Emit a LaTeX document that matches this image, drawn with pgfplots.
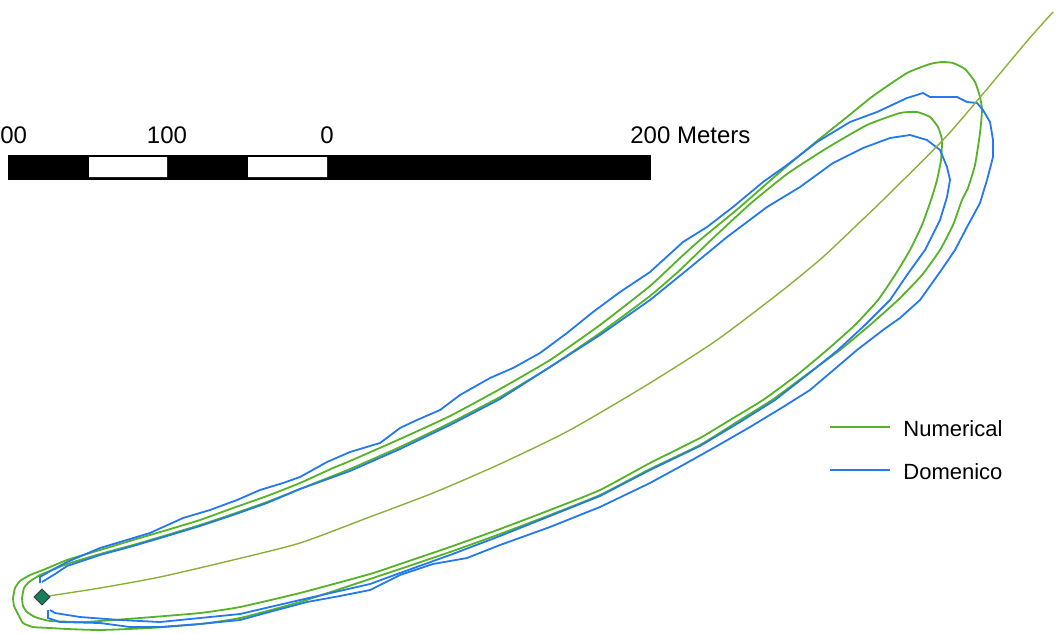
\documentclass[border=0pt]{standalone}
\usepackage{fontspec}
\setmainfont{Liberation Sans}
\usepackage{pgfplots}
\pgfplotsset{compat=1.18}

\definecolor{numgreen}{RGB}{86,178,38}
\definecolor{domblue}{RGB}{36,120,240}
\definecolor{midolive}{RGB}{138,176,58}
\definecolor{srcgreen}{RGB}{22,128,92}

\begin{document}
\begin{tikzpicture}
\begin{axis}[
    width=530.5pt, height=316.5pt, scale only axis,
    xmin=0, xmax=1061, ymin=0, ymax=633, y dir=reverse,
    hide axis, clip=false,
]
% invisible frame, keeps the page at the picture size
\addplot[draw=none, forget plot] coordinates {(0,0) (1061,633)};

% ---- scale bar
\addplot[fill=black, draw=black, line width=0.5pt] coordinates {(8,155) (650,155) (650,179) (8,179) (8,155)};
\addplot[fill=white, draw=none] coordinates {(89,157) (167,157) (167,177) (89,177) (89,157)};
\addplot[fill=white, draw=none] coordinates {(248,157) (327,157) (327,177) (248,177) (248,157)};
\node[anchor=base west, inner sep=0pt, font=\fontsize{12}{14}\selectfont] at (axis cs:0,143) {00};
\node[anchor=base, inner sep=0pt, font=\fontsize{12}{14}\selectfont] at (axis cs:167,143) {100};
\node[anchor=base, inner sep=0pt, font=\fontsize{12}{14}\selectfont] at (axis cs:327,143) {0};
\node[anchor=base west, inner sep=0pt, font=\fontsize{12}{14}\selectfont] at (axis cs:630,143) {200 Meters};

% ---- Numerical, outer contour
\addplot[numgreen, line width=0.9pt, smooth, tension=0.3] coordinates {
(13,598) (15,588) (20,581) (30,575) (43,570) (67,560) (100,550) (133,540) (167,530)
(200,520) (233,508) (267,496) (300,483) (333,468) (350,461) (400,439) (450,416)
(500,389) (550,360) (600,325) (650,286) (680,258) (700,240) (740,207) (780,172)
(817,141) (847,117) (873,96) (907,73) (930,64) (942,62) (953,63) (965,69) (975,82)
(980,97) (982,110) (980,133) (975,165) (968,188) (962,200) (953,225) (940,250)
(922,275) (898,300) (870,325) (840,350) (806,375) (772,400) (740,420) (700,445)
(650,469) (600,495) (550,515) (500,534) (450,552) (400,569) (370,579) (300,602)
(240,618) (200,624) (150,628) (100,630) (67,629) (50,628) (33,627) (23,623)
(18,614) (14,606) (13,598)};

% ---- Numerical, inner contour
\addplot[numgreen, line width=0.9pt, smooth, tension=0.3] coordinates {
(22,598) (24,588) (29,582) (40,575) (50,571) (67,564) (100,554) (133,545) (167,535)
(200,525) (233,514) (267,502) (300,489) (350,469) (400,447) (450,423) (500,397)
(550,367) (600,333) (650,296) (680,270) (710,241) (750,204) (787,174) (827,148)
(867,125) (900,113) (917,112) (930,117) (938,127) (942,140) (941,160) (937,180)
(931,200) (922,225) (910,250) (895,275) (878,300) (855,325) (827,350) (797,375)
(763,400) (730,420) (700,438) (650,463) (600,490) (550,510) (500,529) (450,547)
(400,564) (370,574) (300,593) (240,607) (200,613) (140,618) (100,621) (83,622)
(50,621) (35,617) (27,612) (23,606) (22,598)};

% ---- Domenico, outer contour
\addplot[domblue, line width=0.9pt] coordinates {
(40,583) (40,577) (52,570) (67,562) (100,548) (120,542) (150,533) (183,518) (210,510)
(237,500) (260,490) (283,483) (300,477) (327,462) (350,452) (380,443) (400,428)
(417,420) (440,410) (460,395) (490,378) (513,368) (540,353) (567,333) (593,312)
(620,292) (650,272) (683,242) (707,227) (733,207) (763,182) (787,165) (817,142)
(850,122) (877,112) (907,98) (923,93) (930,97) (957,97) (967,102) (977,103) (983,110)
(990,122) (993,140) (993,157) (987,180) (980,203) (967,227) (955,250) (940,272)
(920,300) (900,318) (883,330) (857,350) (830,373) (810,390) (783,407) (750,427)
(717,446) (683,465) (650,483) (600,507) (550,527) (500,545) (467,558) (433,564)
(400,575) (370,590) (340,596) (307,602) (273,611) (240,620) (200,624) (160,627)
(130,627) (100,623) (60,622) (48,618) (48,610)};

% ---- Domenico, inner contour
\addplot[domblue, line width=0.9pt] coordinates {
(42,582) (55,574) (67,566) (100,555) (133,546) (167,536) (200,526) (233,515)
(267,503) (300,489) (350,471) (400,449) (450,425) (500,399) (550,367) (600,335)
(650,300) (687,270) (727,237) (767,207) (800,187) (833,163) (863,148) (890,138)
(910,135) (927,140) (940,150) (947,167) (950,180) (947,197) (940,220) (925,250)
(907,275) (890,300) (865,325) (838,350) (807,375) (775,400) (740,422) (700,446)
(650,470) (600,496) (550,516) (500,536) (450,555) (400,573) (370,584) (300,600)
(240,614) (200,618) (160,622) (120,620) (80,617) (55,613) (50,610)};

% ---- plume axis
\addplot[midolive, line width=0.7pt, smooth, tension=0.4] coordinates {
(42,597) (100,588) (160,577) (233,560) (300,543) (367,518) (433,493) (500,464)
(570,430) (650,383) (717,340) (783,290) (823,257) (860,222) (883,200) (943,140)
(982,95) (1028,40) (1053,12)};

% ---- source
\addplot[only marks, mark=square*, mark size=2.8pt,
  mark options={rotate=45, fill=srcgreen, draw=black!75, line width=0.5pt}]
  coordinates {(42,597)};

% ---- legend
\addplot[numgreen, line width=0.9pt] coordinates {(830,427) (890,427)};
\addplot[domblue, line width=0.9pt] coordinates {(830,470) (890,470)};
\node[anchor=base west, inner sep=0pt, font=\fontsize{11}{14}\selectfont] at (axis cs:903,436) {Numerical};
\node[anchor=base west, inner sep=0pt, font=\fontsize{11}{14}\selectfont] at (axis cs:903,479) {Domenico};
\end{axis}
\end{tikzpicture}
\end{document}
